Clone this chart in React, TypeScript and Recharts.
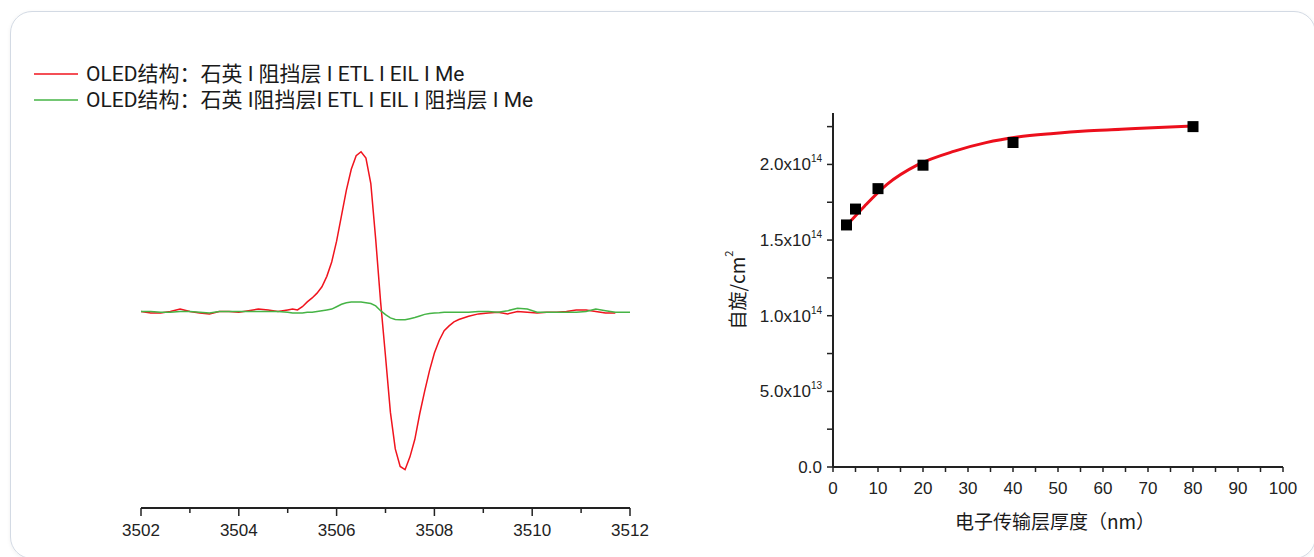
import {
  LineChart,
  ComposedChart,
  Line,
  Scatter,
  XAxis,
  YAxis,
  Legend,
} from 'recharts';

// EPR spectra (left)
const fieldX = [
  3502.0, 3502.2, 3502.4, 3502.6, 3502.8, 3503.0, 3503.2, 3503.4, 3503.6, 3503.8, 3504.0, 3504.2,
  3504.4, 3504.6, 3504.8, 3505.0, 3505.1, 3505.2, 3505.3, 3505.4, 3505.5, 3505.6, 3505.7, 3505.8,
  3505.9, 3506.0, 3506.1, 3506.2, 3506.3, 3506.4, 3506.5, 3506.6, 3506.7, 3506.8, 3506.9, 3507.0,
  3507.1, 3507.2, 3507.3, 3507.4, 3507.5, 3507.6, 3507.7, 3507.8, 3507.9, 3508.0, 3508.1, 3508.2,
  3508.3, 3508.4, 3508.5, 3508.7, 3508.9, 3509.1, 3509.3, 3509.5, 3509.7, 3509.9, 3510.1, 3510.3,
  3510.5, 3510.7, 3510.9, 3511.1, 3511.3, 3511.5, 3511.7, 3511.9, 3512.0,
];
const redSignal: (number | null)[] = [
  0, -1, -1, 0, 1.5, 0, -1, -1.5, 0, 0, -0.5, 0.5,
  1.5, 1, 0, 1, 1.5, 1, 3, 6, 8.5, 11.5, 15.5, 22,
  31, 44, 60, 76, 89, 97.5, 100, 96, 80, 45, 6, -28,
  -63, -86, -97, -99, -91, -80, -64, -50, -37, -26, -18, -12,
  -9, -6.5, -5, -3, -1.5, -1, -0.5, -1.5, 0, -0.5, -1, -0.5,
  -0.5, 0, 1, 1, 0, -1, -1, null, null,
];
const greenSignal = [
  0, 0, -0.5, -0.5, 0, 0, -0.5, -1, 0, 0, 0, 0,
  0, 0, 0, -0.5, -1, -1, -1, -0.5, -0.5, 0, 0.5, 1,
  1.5, 3, 4.5, 5.5, 6, 6, 6, 5.5, 5, 3.5, 0.5, -2,
  -4, -5, -5.2, -5.2, -4.5, -3.8, -2.8, -1.8, -1.2, -1, -0.8, -0.5,
  -0.5, -0.5, -0.5, -0.5, 0, 0, -0.5, 0.5, 2, 1.5, -0.5, -0.5,
  -0.5, -0.5, -0.5, 0, 1.5, 0.5, -0.5, -0.5, -0.5,
];
const fieldTicks = [3502, 3503, 3504, 3505, 3506, 3507, 3508, 3509, 3510, 3511, 3512];
const legendLabels = [
  'OLED结构：石英 I 阻挡层 I ETL I EIL I Me',
  'OLED结构：石英 I阻挡层I ETL I EIL I 阻挡层 I Me',
];
const seriesColors = ['#f0141e', '#46b446'];

// spin density vs ETL thickness (right)
const thickness = [3, 5, 10, 20, 40, 80];
const spinDensity = [1.6e14, 1.705e14, 1.84e14, 1.995e14, 2.145e14, 2.25e14];
const fitThickness = [3, 7, 12, 19, 27, 34, 41, 49, 56, 64, 71, 80];
const fitSpin = [
  1.596e14, 1.724e14, 1.868e14, 2.0e14, 2.088e14, 2.144e14, 2.181e14, 2.205e14, 2.221e14,
  2.232e14, 2.243e14, 2.254e14,
];
const thicknessTicks = [0, 5, 10, 15, 20, 25, 30, 35, 40, 45, 50, 55, 60, 65, 70, 75, 80, 85, 90, 95, 100];
const spinTicks = [0, 2.5e13, 5e13, 7.5e13, 1e14, 1.25e14, 1.5e14, 1.75e14, 2e14, 2.25e14];

const spectrum = fieldX.map((x, i) => ({ x, red: redSignal[i], green: greenSignal[i] }));
const points = thickness.map((t, i) => ({ t, v: spinDensity[i] }));
const fit = fitThickness.map((t, i) => ({ t, v: fitSpin[i] }));

const AXIS = '#222';
const TICK_FONT = '"Liberation Sans", Arial, sans-serif';
const CJK_FONT = '"Noto Sans CJK SC", "Noto Sans", sans-serif';
// Roboto first keeps the legend's line boxes compact; CJK glyphs fall back to Noto
const LEGEND_FONT = 'Roboto, "Noto Sans CJK SC", sans-serif';

const FieldTick = ({ x, y, payload }: any) => {
  const major = payload.value % 2 === 0;
  return (
    <g>
      <line x1={x} x2={x} y1={y} y2={y + (major ? 8 : 5)} stroke={AXIS} strokeWidth={1.5} />
      {major && (
        <text x={x} y={y + 28} textAnchor="middle" fontSize={17} fontFamily={TICK_FONT} fill="#222">
          {payload.value}
        </text>
      )}
    </g>
  );
};

const ThicknessTick = ({ x, y, payload }: any) => (
  <g>
    <line x1={x} x2={x} y1={y} y2={y + 5} stroke={AXIS} strokeWidth={1.5} />
    {payload.value % 10 === 0 && (
      <text x={x} y={y + 27} textAnchor="middle" fontSize={17} fontFamily={TICK_FONT} fill="#222">
        {payload.value}
      </text>
    )}
  </g>
);

const SpinTick = ({ x, y, payload }: any) => {
  const v = payload.value;
  const labelled = Math.abs(v / 5e13 - Math.round(v / 5e13)) < 1e-6;
  let body: any = null;
  if (labelled) {
    if (v === 0) {
      body = '0.0';
    } else {
      const exp = Math.floor(Math.log10(v));
      const mant = (v / Math.pow(10, exp)).toFixed(1);
      body = (
        <>
          {mant}x10
          <tspan fontSize={10} dy={-8}>{exp}</tspan>
        </>
      );
    }
  }
  return (
    <g>
      <line x1={x - 6} x2={x} y1={y} y2={y} stroke={AXIS} strokeWidth={1.5} />
      {body !== null && (
        <text x={x - 11} y={y + 6} textAnchor="end" fontSize={17} fontFamily={TICK_FONT} fill="#222">
          {body}
        </text>
      )}
    </g>
  );
};

const SquareDot = ({ cx, cy }: any) => (
  <rect x={cx - 5.5} y={cy - 5.5} width={11} height={11} fill="#000" />
);

// legend rows are 26px apart, as in the reference
const SpectrumLegend = () => (
  <div style={{ fontFamily: LEGEND_FONT, fontSize: 21, color: '#1a1a1a' }}>
    {legendLabels.map((label, i) => (
      <div key={label} style={{ display: 'flex', alignItems: 'center', whiteSpace: 'nowrap', height: 26 }}>
        <svg width={44} height={4} style={{ marginRight: 8 }}>
          <line x1={0} x2={44} y1={2} y2={2} stroke={seriesColors[i]} strokeWidth={1.5} />
        </svg>
        <span style={{ lineHeight: '24px' }}>{label}</span>
      </div>
    ))}
  </div>
);

const XTitle = ({ viewBox }: any) => (
  <text
    x={viewBox.x + viewBox.width / 2 - 3}
    y={viewBox.y + 62}
    textAnchor="middle"
    fontSize={19}
    fontFamily={CJK_FONT}
    fill="#1a1a1a"
  >
    电子传输层厚度（nm）
  </text>
);

const YTitle = ({ viewBox }: any) => {
  const cx = viewBox.x - 37;
  const cy = viewBox.y + viewBox.height / 2;
  return (
    <text
      x={cx}
      y={cy}
      transform={`rotate(-90 ${cx} ${cy})`}
      textAnchor="middle"
      dominantBaseline="central"
      fontSize={19}
      fontFamily={CJK_FONT}
      fill="#1a1a1a"
    >
      自旋/cm
      <tspan fontSize={11} dy={-8}>2</tspan>
    </text>
  );
};

export default function App() {
  return (
    <div style={{ position: 'absolute', left: 0, top: 0, width: 1314, height: 557, overflow: 'hidden', background: '#fff' }}>
      <div
        style={{
          position: 'absolute',
          left: 10,
          top: 11,
          width: 1306,
          height: 548,
          border: '1px solid #d3dae4',
          borderRadius: 22,
          boxSizing: 'border-box',
          boxShadow: '0 1px 4px rgba(0,0,0,0.06)',
        }}
      />
      <div style={{ position: 'absolute', left: 0, top: 0 }}>
        <LineChart
          width={700}
          height={557}
          data={spectrum}
          margin={{ top: 115, right: 70, bottom: 19, left: 141 }}
        >
          <XAxis
            dataKey="x"
            type="number"
            domain={[3502, 3512]}
            ticks={fieldTicks}
            interval={0}
            height={30}
            tickSize={0}
            tickMargin={0}
            tick={<FieldTick />}
            tickLine={false}
            axisLine={{ stroke: AXIS, strokeWidth: 2 }}
          />
          <YAxis hide domain={[-123, 123]} />
          <Legend
            layout="horizontal"
            verticalAlign="middle"
            align="center"
            wrapperStyle={{ position: 'absolute', left: 34, top: 61, width: 640, height: 52 }}
            content={<SpectrumLegend />}
          />
          <Line
            type="linear"
            dataKey="red"
            stroke={seriesColors[0]}
            strokeWidth={1.5}
            dot={false}
            isAnimationActive={false}
          />
          <Line
            type="linear"
            dataKey="green"
            stroke={seriesColors[1]}
            strokeWidth={1.5}
            dot={false}
            isAnimationActive={false}
          />
        </LineChart>
      </div>
      <div style={{ position: 'absolute', left: 700, top: 0 }}>
        <ComposedChart
          width={614}
          height={557}
          margin={{ top: 113, right: 31, bottom: 60, left: 73 }}
        >
          <XAxis
            dataKey="t"
            type="number"
            domain={[0, 100]}
            ticks={thicknessTicks}
            interval={0}
            height={30}
            tickSize={0}
            tickMargin={0}
            tick={<ThicknessTick />}
            tickLine={false}
            axisLine={{ stroke: AXIS, strokeWidth: 2 }}
            label={<XTitle />}
          />
          <YAxis
            type="number"
            domain={[0, 2.34e14]}
            ticks={spinTicks}
            interval={0}
            width={60}
            tickSize={0}
            tickMargin={0}
            tick={<SpinTick />}
            tickLine={false}
            axisLine={{ stroke: AXIS, strokeWidth: 2 }}
            label={<YTitle />}
          />
          <Line
            data={fit}
            dataKey="v"
            type="monotone"
            stroke="#ec0f1c"
            strokeWidth={3}
            dot={false}
            isAnimationActive={false}
          />
          <Scatter data={points} dataKey="v" shape={<SquareDot />} isAnimationActive={false} />
        </ComposedChart>
      </div>
    </div>
  );
}
